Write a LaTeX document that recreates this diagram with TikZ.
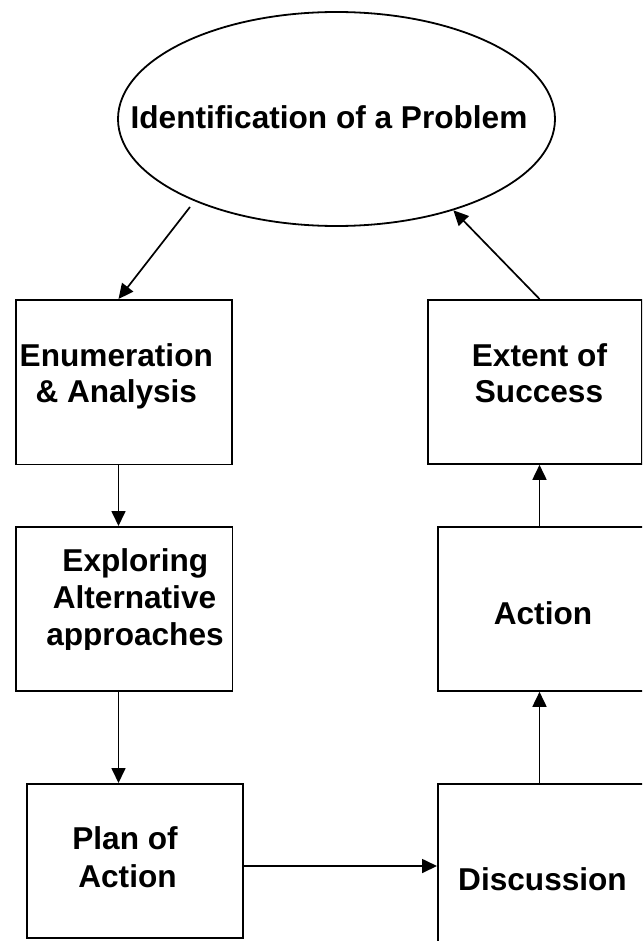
\documentclass[tikz,border=0pt]{standalone}
\usepackage{fontspec}
\setmainfont{Liberation Sans}
\usetikzlibrary{shapes.geometric,arrows.meta,calc}
\begin{document}
\begin{tikzpicture}[x=1pt,y=-1pt,
  stepbox/.style={draw,line width=1.8pt,inner sep=0pt,anchor=north west},
  txt/.style={anchor=base,inner sep=0pt,font=\bfseries\fontsize{31.6}{36}\selectfont},
  arr/.style={line width=1.7pt,-{Triangle[length=15pt,width=14pt]}}]
\clip (0,0) rectangle (642,941);
% ellipse
\node[draw,ellipse,line width=1.8pt,minimum width=437pt,minimum height=214pt,inner sep=0pt] (prob) at (336.5,119) {};
\node[txt] (title) at (329,129) {Identification of a Problem};
% boxes
\node[stepbox,minimum width=216pt,minimum height=164.5pt] (enum) at (15,299) {};
\node[stepbox,minimum width=216.5pt,minimum height=164pt] (expl) at (15,526) {};
\node[stepbox,minimum width=216pt,minimum height=154pt] (plan) at (25.7,783) {};
\node[stepbox,minimum width=214pt,minimum height=164pt] (ext) at (427,299) {};
\node[stepbox,minimum width=216pt,minimum height=164pt] (act) at (437,526) {};
\node[stepbox,minimum width=216pt,minimum height=200pt] (disc) at (437,783) {};
% texts
\node[txt] (t1a) at (116.3,366) {Enumeration};
\node[txt] (t1b) at (116.3,402) {\& Analysis};
\node[txt] (t2a) at (135.3,571) {Exploring};
\node[txt] (t2b) at (134.5,608) {Alternative};
\begin{scope}
\clip (15,526) rectangle (232,649);
\node[txt] (t2c) at (135,645) {approaches};
\end{scope}
\node[txt] (t3a) at (125,849) {Plan of};
\node[txt] (t3b) at (127.5,887) {Action};
\node[txt] (t4a) at (539.5,366) {Extent of};
\node[txt] (t4b) at (539,402) {Success};
\node[txt] (t5) at (543,624) {Action};
\node[txt] (t6) at (542.5,890) {Discussion};
% connectors
\coordinate (cl) at (118.5,0);
\coordinate (cr) at (539.5,0);
\coordinate (cm) at (0,866);
\coordinate (a1s) at (190,207);
\draw[arr] (a1s) -- (enum.north -| cl);
\draw[arr] (enum.south -| cl) -- (expl.north -| cl);
\draw[arr] (expl.south -| cl) -- (plan.north -| cl);
\draw[arr] (plan.east |- cm) -- (disc.west |- cm);
\draw[arr] (disc.north -| cr) -- (act.south -| cr);
\draw[arr] (act.north -| cr) -- (ext.south -| cr);
\draw[arr] (ext.north -| cr) -- (prob.-38.7);
\end{tikzpicture}
\end{document}
